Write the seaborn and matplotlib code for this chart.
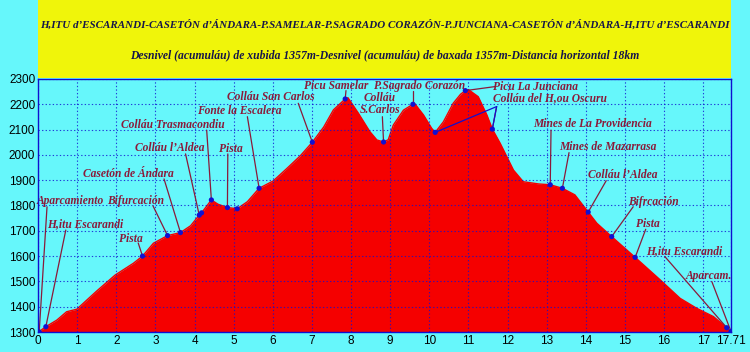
import numpy as np
import pandas as pd
import matplotlib
matplotlib.use('Agg')
import matplotlib.pyplot as plt
from matplotlib.patches import Rectangle
import seaborn as sns

# perfil (km, m)
dist = [0.00, 0.03, 0.20, 0.48, 0.73, 0.99, 1.50, 1.97, 2.44, 2.67, 2.95, 3.31, 3.45, 3.64, 3.90,
        4.12, 4.18, 4.43, 4.60, 4.84, 5.09, 5.35, 5.65, 6.01, 6.35, 6.70, 7.01, 7.30, 7.55, 7.85,
        7.92, 8.19, 8.48, 8.66, 8.83, 8.95, 9.08, 9.34, 9.58, 9.62, 9.85, 10.06, 10.15, 10.36,
        10.61, 10.80, 10.92, 11.00, 11.25, 11.47, 11.61, 11.81, 12.15, 12.40, 12.80, 13.09, 13.40,
        13.72, 14.06, 14.28, 14.66, 15.26, 15.90, 16.41, 16.83, 17.26, 17.60, 17.71]
elev = [1300, 1302, 1321, 1347, 1380, 1390, 1462, 1525, 1572, 1600, 1651, 1681, 1686, 1693, 1720,
        1762, 1771, 1822, 1805, 1792, 1787, 1815, 1868, 1897, 1945, 1996, 2050, 2110, 2178, 2221,
        2226, 2164, 2092, 2059, 2051, 2060, 2118, 2177, 2200, 2204, 2158, 2105, 2089, 2131,
        2204, 2240, 2254, 2258, 2230, 2158, 2102, 2046, 1940, 1894, 1885, 1882, 1868,
        1842, 1774, 1730, 1677, 1595, 1506, 1433, 1394, 1361, 1317, 1302]

# puntos de paso
names = ['Aparcamiento', 'H,itu Escarandi', 'Pista', 'Bifurcación', 'Casetón de Ándara',
         'Colláu l\u2019Aldea', 'Colláu Trasmacondiu', 'Pista', 'Fonte la Escalera',
         'Colláu San Carlos', 'Picu Samelar', 'Colláu\nS.Carlos', 'P.Sagrado Corazón',
         'Picu La Junciana', 'Colláu del H,ou Oscuru', 'Mines de La Providencia',
         'Mines de Mazarrasa', 'Colláu l\u2019Aldea', 'Bifrcación', 'Pista', 'H,itu Escarandi',
         'Aparcam.']
pt_x = [0.03, 0.20, 2.67, 3.31, 3.64, 4.12, 4.43, 4.84, 5.65, 7.01, 7.85, 8.83, 9.58, 10.92,
        11.61, 13.09, 13.40, 14.06, 14.66, 15.26, 17.60, 17.71]
pt_y = [1300, 1321, 1600, 1681, 1693, 1762, 1822, 1792, 1868, 2050, 2221, 2051, 2200, 2254,
        2102, 1882, 1868, 1774, 1677, 1595, 1317, 1302]
lab_x = [0.83, 1.21, 2.38, 2.50, 2.31, 3.36, 3.44, 4.92, 5.14, 5.95, 7.63, 8.74, 9.74, 12.71,
         13.08, 14.16, 14.57, 14.95, 15.72, 15.58, 16.51, 17.14]
lab_y = [1818, 1727, 1667, 1818, 1924, 2027, 2118, 2023, 2174, 2229, 2274, 2201, 2274, 2270,
         2224, 2121, 2030, 1920, 1815, 1726, 1621, 1521]
line_x = [0.23, 0.71, 2.56, 2.94, 3.22, 3.77, 4.31, 4.85, 5.35, 6.65, 7.87, 8.80, 9.58, 11.68,
          11.72, 13.11, 13.57, 14.52, 15.21, 15.53, 16.02, 17.22]
line_y = [1795, 1703, 1652, 1798, 1905, 2004, 2098, 2004, 2151, 2204, 2254, 2151, 2254, 2270,
          2191, 2098, 2009, 1898, 1795, 1706, 1598, 1499]
# otros puntos sin etiqueta propia
extra_x = [4.18, 5.09, 10.15]
extra_y = [1771, 1787, 2089]

title1 = 'H,ITU d\u2019ESCARANDI-CASETÓN d\u2019ÁNDARA-P.SAMELAR-P.SAGRADO CORAZÓN-P.JUNCIANA-CASETÓN d\u2019ÁNDARA-H,ITU d\u2019ESCARANDI'
title2 = 'Desnivel (acumuláu) de xubida 1357m-Desnivel (acumuláu) de baxada 1357m-Distancia horizontal 18km'

xticks = list(range(0, 18)) + [17.71]
yticks = list(range(1300, 2301, 100))

cyan = '#66F7FB'
red = '#F50000'
blue = '#1010D0'
maroon = '#8A1A3A'

sns.set_style('white')
plt.rcParams['font.family'] = ['Liberation Sans', 'DejaVu Sans']

prof = pd.DataFrame({'km': dist, 'm': elev})
pts = pd.DataFrame({'km': pt_x + extra_x, 'm': pt_y + extra_y})

fig = plt.figure(figsize=(7.5, 3.52), dpi=100, facecolor=cyan)
ax = fig.add_axes([0.0507, 0.0568, 0.9240, 0.7188])
ax.set_facecolor(cyan)

ax.fill_between(prof['km'], prof['m'], 1300, color=red, lw=0, zorder=1)
sns.lineplot(data=prof, x='km', y='m', color=red, lw=1, ax=ax, zorder=2)

for i in range(len(names)):
    ax.plot([line_x[i], pt_x[i]], [line_y[i], pt_y[i]], color=maroon, lw=0.9, zorder=4)
    ax.text(lab_x[i], lab_y[i], names[i], ha='center', va='center', color=maroon,
            family=['Liberation Serif'], fontweight='bold', fontstyle='italic', fontsize=8.3,
            linespacing=1.0, zorder=6)
# segunda linia de Colláu del H,ou Oscuru
ax.plot([line_x[14], extra_x[2]], [line_y[14], extra_y[2]], color=blue, lw=0.9, zorder=4)
ax.plot([line_x[14], pt_x[14]], [line_y[14], pt_y[14]], color=blue, lw=0.9, zorder=4)

sns.scatterplot(data=pts, x='km', y='m', color=blue, s=14, edgecolor='none', ax=ax, zorder=5)

ax.set_xlim(0, 17.71)
ax.set_ylim(1300, 2300)
ax.set_xticks(xticks)
ax.set_xticklabels([str(t) for t in xticks])
ax.set_yticks(yticks)
ax.grid(True, color=blue, linestyle=(0, (1.2, 2)), lw=0.8, alpha=0.8)
ax.set_axisbelow(False)
ax.tick_params(length=0, labelsize=8.5, pad=2, colors='black')
ax.set_xlabel('')
ax.set_ylabel('')
for s in ax.spines.values():
    s.set_color(blue)
    s.set_linewidth(1)
    s.set_zorder(7)

fig.add_artist(Rectangle((0.0507, 0.7784), 0.9240, 0.2216, transform=fig.transFigure,
                         facecolor='#F0F50A', edgecolor='none', zorder=0))
fig.text(0.5127, 1 - 25 / 352, title1, ha='center', va='center', color='#15154A',
         family=['Liberation Serif'], fontweight='bold', fontstyle='italic', fontsize=7.95)
fig.text(0.5127, 1 - 55 / 352, title2, ha='center', va='center', color='#15154A',
         family=['Liberation Serif'], fontweight='bold', fontstyle='italic', fontsize=8.35)

fig.savefig('out.png', dpi=100, facecolor=cyan)
